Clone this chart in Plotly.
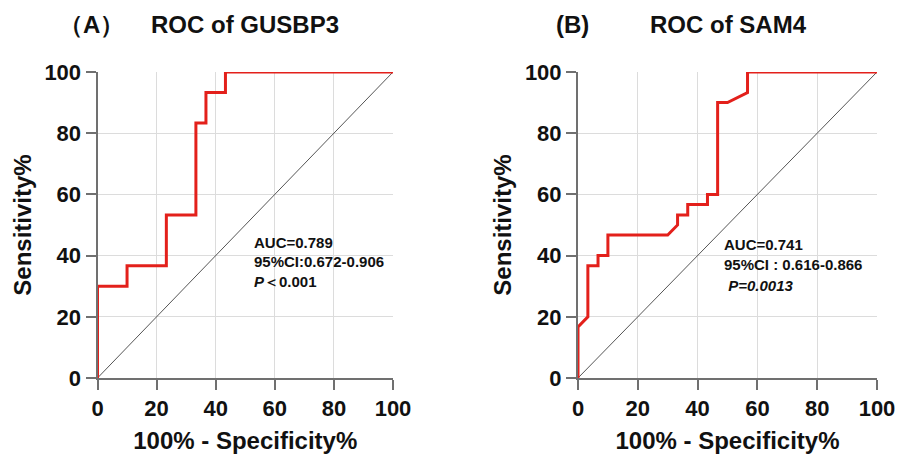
import plotly.graph_objects as go

# ROC of GUSBP3 (panel A)
a_fpr = [0, 0, 10, 10, 23.3, 23.3, 33.3, 33.3, 36.7, 36.7, 43.3, 43.3, 100]
a_tpr = [0, 30, 30, 36.7, 36.7, 53.3, 53.3, 83.3, 83.3, 93.3, 93.3, 100, 100]

# ROC of SAM4 (panel B)
b_fpr = [0, 0, 3.3, 3.3, 6.7, 6.7, 10, 10, 30, 33.3, 33.3, 36.7, 36.7, 43.3, 43.3, 46.7, 46.7, 50, 56.7, 56.7, 100]
b_tpr = [0, 16.7, 20, 36.7, 36.7, 40, 40, 46.7, 46.7, 50, 53.3, 53.3, 56.7, 56.7, 60, 60, 90, 90, 93.3, 100, 100]

ref_line = [0, 100]
ticks = [0, 20, 40, 60, 80, 100]

a_stats = ["<b>AUC=0.789</b>", "<b>95%CI:0.672-0.906</b>", "<b><i>P</i>＜0.001</b>"]
b_stats = ["<b>AUC=0.741</b>", "<b>95%CI : 0.616-0.866</b>", "<b> <i>P=0.0013</i></b>"]

FONT = "Arial, Liberation Sans, sans-serif"
RED = "#e3201b"
W, H = 897, 457

fig = go.Figure()
for fx, ty, xa, ya in [(a_fpr, a_tpr, "x", "y"), (b_fpr, b_tpr, "x2", "y2")]:
    fig.add_trace(go.Scatter(x=ref_line, y=ref_line, mode="lines", xaxis=xa, yaxis=ya,
                             line=dict(color="#555555", width=1), showlegend=False, hoverinfo="skip"))
    fig.add_trace(go.Scatter(x=fx, y=ty, mode="lines", xaxis=xa, yaxis=ya,
                             line=dict(color=RED, width=3), showlegend=False))

def px_x(p):
    return p / W

def px_y(p):
    return 1 - p / H

ydom = [px_y(378), px_y(72)]
ax_common = dict(range=[0, 100], tickvals=ticks, showgrid=True, gridcolor="#dcdcdc", gridwidth=1,
                 zeroline=False, showline=True, linecolor="#707070", linewidth=2,
                 ticks="outside", ticklen=10, tickwidth=2, tickcolor="#707070",
                 tickfont=dict(family=FONT, size=22, color="#111111", weight="bold"),
                 automargin=False, fixedrange=True)
title_font = dict(family=FONT, size=24, color="#111111", weight="bold")

fig.update_layout(
    template="none",
    width=W, height=H, margin=dict(l=0, r=0, t=0, b=0),
    paper_bgcolor="white", plot_bgcolor="white",
    font=dict(family=FONT, color="#111111"),
    xaxis=dict(domain=[px_x(97.5), px_x(393)], anchor="y",
               title=dict(text="100% - Specificity%", font=title_font, standoff=12), **ax_common),
    yaxis=dict(domain=ydom, anchor="x",
               title=dict(text="Sensitivity%", font=title_font, standoff=6), **ax_common),
    xaxis2=dict(domain=[px_x(578), px_x(877)], anchor="y2",
                title=dict(text="100% - Specificity%", font=title_font, standoff=12), **ax_common),
    yaxis2=dict(domain=ydom, anchor="x2",
                title=dict(text="Sensitivity%", font=title_font, standoff=6), **ax_common),
)

# titles
titles = [("<b>（A）</b>", 91), ("<b>ROC of GUSBP3</b>", 245), ("<b>(B)</b>", 572), ("<b>ROC of SAM4</b>", 728)]
for txt, cx in titles:
    fig.add_annotation(text=txt, x=px_x(cx), y=px_y(25), xref="paper", yref="paper",
                       showarrow=False, xanchor="center", yanchor="middle",
                       font=dict(family=FONT, size=24, color="#111111"))

# statistics text
for lines, xs, ys in [(a_stats, 252, [242, 261, 281]), (b_stats, 722, [244, 264, 285])]:
    for t, yy in zip(lines, ys):
        fig.add_annotation(text=t, x=px_x(xs), y=px_y(yy), xref="paper", yref="paper",
                           showarrow=False, xanchor="left", yanchor="middle",
                           font=dict(family=FONT, size=15, color="#111111"))

fig.write_html("out.html")
